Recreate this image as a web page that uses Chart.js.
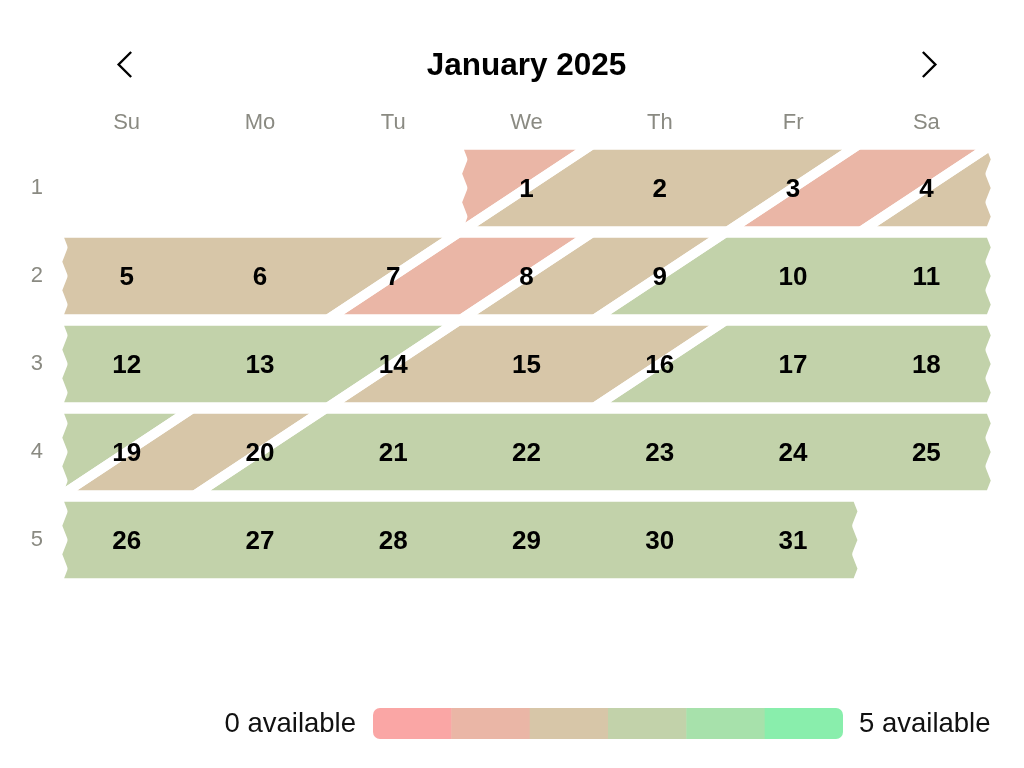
<!DOCTYPE html>
<html>
<head>
<meta charset="utf-8">
<style>
html,body{margin:0;padding:0;background:#ffffff;}
#wrap{width:1024px;height:768px;}
</style>
<script src="https://cdn.jsdelivr.net/npm/chart.js@4.4.1/dist/chart.umd.min.js"></script>
</head>
<body>
<div id="wrap"><canvas id="c" width="1024" height="768"></canvas></div>
<script>
// ---------- data ----------
const monthTitle = 'January 2025';
const weekdayLabels = ['Su', 'Mo', 'Tu', 'We', 'Th', 'Fr', 'Sa'];
const weekLabels = ['1', '2', '3', '4', '5'];
const firstWeekday = 3;          // 1 January 2025 is a Wednesday
const dayCount = 31;
const nightBeforeFirst = 1;      // availability of the night of 31 December
const nightAvailability = [2, 2, 1, 2, 2, 2, 1, 2, 3, 3,
                           3, 3, 3, 2, 2, 3, 3, 3, 2, 3,
                           3, 3, 3, 3, 3, 3, 3, 3, 3, 3,
                           3];
const levelColors = ['#faa6a5', '#eab6a6', '#d7c6a8', '#c2d2aa', '#a7e1ab', '#89eeac'];
const legendLow = '0 available';
const legendHigh = '5 available';

// ---------- geometry helpers (data units: columns / week rows) ----------
const FONT = "'Liberation Sans', Arial, Helvetica, sans-serif";
const TB = 0.012;   // band inset inside a week row
const ZA = 0.021;   // zigzag half amplitude in columns

function night(d) { return d === 0 ? nightBeforeFirst : nightAvailability[d - 1]; }
function cellPos(d) { const i = firstWeekday + d - 1; return { col: i % 7, row: Math.floor(i / 7) }; }
function yAt(r, k) { return r + TB + k / 6 * (1 - 2 * TB); }
function leftEdge(e, r) {
  if (e.type === 'zig') {
    const pts = [];
    for (let k = 6; k >= 0; k--) pts.push({ x: e.x + (k % 2 === 0 ? -ZA : ZA), y: yAt(r, k) });
    return pts;
  }
  return [{ x: e.c + TB, y: r + 1 - TB }, { x: e.c + 1 - TB, y: r + TB }];
}
function rightEdge(e, r) {
  if (e.type === 'zig') {
    const pts = [];
    for (let k = 0; k <= 6; k++) pts.push({ x: e.x + (k % 2 === 1 ? ZA : -ZA), y: yAt(r, k) });
    return pts;
  }
  return [{ x: e.c + 1 - TB, y: r + TB }, { x: e.c + TB, y: r + 1 - TB }];
}

const segments = [];
for (let r = 0; r < weekLabels.length; r++) {
  const dS = Math.max(1, 7 * r - firstWeekday + 1);
  const dE = Math.min(dayCount, 7 * r + 6 - firstWeekday + 1);
  if (dS > dE) continue;
  let left = { type: 'zig', x: cellPos(dS).col };
  let val = night(dS - 1);
  for (let d = dS; d <= dE; d++) {
    if (night(d - 1) !== night(d)) {
      const c = cellPos(d).col;
      segments.push({ r, left, right: { type: 'diag', c }, val });
      left = { type: 'diag', c };
      val = night(d);
    }
  }
  segments.push({ r, left, right: { type: 'zig', x: cellPos(dE).col + 1 }, val });
}

const datasets = segments.map(s => {
  const pts = rightEdge(s.right, s.r).concat(leftEdge(s.left, s.r));
  pts.push({ x: pts[0].x, y: pts[0].y });
  return {
    label: 'level ' + s.val,
    data: pts,
    backgroundColor: levelColors[s.val],
    borderColor: '#ffffff',
    borderWidth: 9.5,
    borderJoinStyle: 'round',
    borderCapStyle: 'round',
    fill: 'shape',
    pointRadius: 0,
    pointHoverRadius: 0,
    tension: 0,
    clip: false
  };
});

// ---------- decorations ----------
const decor = {
  id: 'decor',
  afterDatasetsDraw(chart) {
    const ctx = chart.ctx, xs = chart.scales.x, ys = chart.scales.y;
    ctx.save();
    ctx.fillStyle = '#000000';
    ctx.font = 'bold 26px ' + FONT;
    ctx.textAlign = 'center';
    ctx.textBaseline = 'middle';
    for (let d = 1; d <= dayCount; d++) {
      const p = cellPos(d);
      ctx.fillText(String(d), xs.getPixelForValue(p.col + 0.5), ys.getPixelForValue(p.row + 0.5) + 2);
    }
    ctx.restore();
  },
  afterDraw(chart) {
    const ctx = chart.ctx, xs = chart.scales.x;
    ctx.save();
    // navigation chevrons
    const cy = 64.5;
    const lx = xs.getPixelForValue(0.5) - 2;
    const rx = xs.getPixelForValue(6.5) + 3;
    ctx.strokeStyle = '#000000';
    ctx.lineWidth = 2.4;
    ctx.lineCap = 'butt';
    ctx.lineJoin = 'miter';
    ctx.beginPath();
    ctx.moveTo(lx + 6.5, cy - 12.5); ctx.lineTo(lx - 6, cy); ctx.lineTo(lx + 6.5, cy + 12.5);
    ctx.stroke();
    ctx.beginPath();
    ctx.moveTo(rx - 6.5, cy - 12.5); ctx.lineTo(rx + 6, cy); ctx.lineTo(rx - 6.5, cy + 12.5);
    ctx.stroke();

    // colour scale legend
    const bx = 373, by = 708, bw = 470, bh = 31, rad = 7;
    ctx.beginPath();
    ctx.roundRect(bx, by, bw, bh, rad);
    ctx.clip();
    const sw = bw / levelColors.length;
    levelColors.forEach((c, i) => {
      ctx.fillStyle = c;
      ctx.fillRect(bx + i * sw, by, sw + (i < levelColors.length - 1 ? 0.5 : 0), bh);
    });
    ctx.restore();
    ctx.save();
    ctx.fillStyle = '#111111';
    ctx.font = '27.5px ' + FONT;
    ctx.textBaseline = 'middle';
    ctx.textAlign = 'right';
    ctx.fillText(legendLow, bx - 17, by + bh / 2 + 1);
    ctx.textAlign = 'left';
    ctx.fillText(legendHigh, bx + bw + 16, by + bh / 2 + 1);
    ctx.restore();
  }
};

new Chart(document.getElementById('c'), {
  type: 'line',
  data: { datasets },
  options: {
    responsive: false,
    animation: false,
    devicePixelRatio: 1,
    events: [],
    layout: { padding: { left: 0, right: 31, top: 0, bottom: 184 } },
    plugins: {
      legend: { display: false },
      tooltip: { enabled: false },
      filler: { drawTime: 'beforeDatasetsDraw', propagate: false },
      title: {
        display: true,
        text: monthTitle,
        fullSize: false,
        color: '#000000',
        font: { family: FONT, size: 31.5, weight: 'bold', lineHeight: 1.2 },
        padding: { top: 47.5, bottom: 0 }
      }
    },
    scales: {
      x: {
        type: 'linear',
        position: 'top',
        min: 0, max: 7,
        grid: { display: false, drawTicks: false },
        border: { display: false },
        afterBuildTicks: s => { s.ticks = weekdayLabels.map((_, i) => ({ value: i + 0.5 })); },
        afterFit: s => { s.height = 58.7; },
        ticks: {
          callback: v => weekdayLabels[Math.floor(v)],
          color: '#8a8a82',
          font: { family: FONT, size: 22 },
          padding: 8,
          maxRotation: 0,
          autoSkip: false
        }
      },
      y: {
        type: 'linear',
        reverse: true,
        min: 0, max: 5,
        grid: { display: false, drawTicks: false },
        border: { display: false },
        afterBuildTicks: s => { s.ticks = weekLabels.map((_, i) => ({ value: i + 0.5 })); },
        afterFit: s => { s.width = 60; },
        ticks: {
          callback: v => weekLabels[Math.floor(v)],
          color: '#8a8a82',
          font: { family: FONT, size: 22 },
          padding: 17,
          autoSkip: false
        }
      }
    }
  },
  plugins: [decor]
});
</script>
</body>
</html>
